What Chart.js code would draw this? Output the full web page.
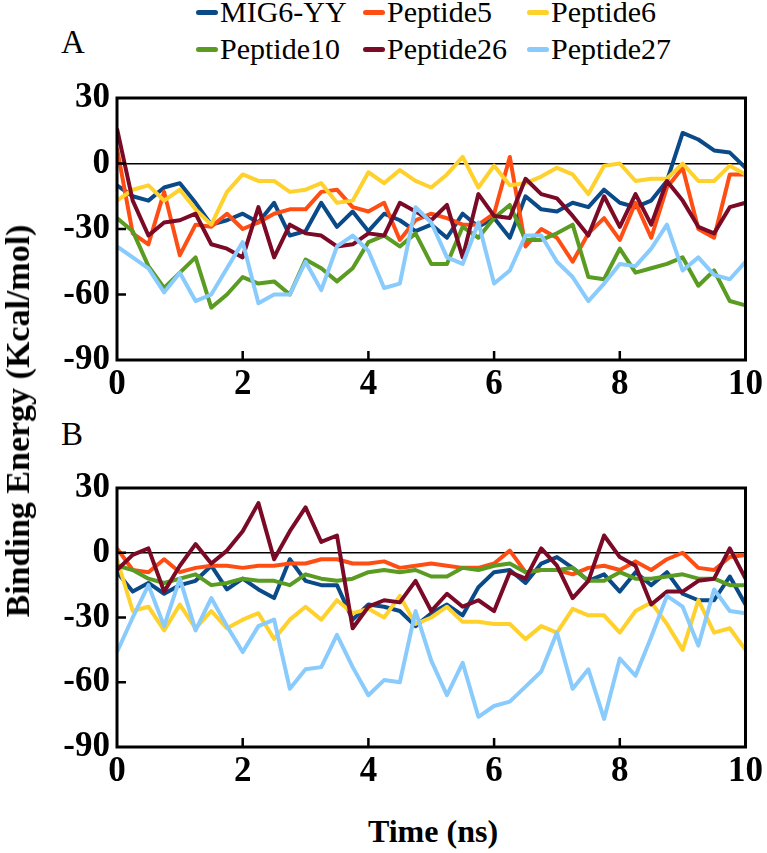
<!DOCTYPE html>
<html>
<head>
<meta charset="utf-8">
<script src="https://cdn.jsdelivr.net/npm/chart.js@4.4.1/dist/chart.umd.min.js"></script>
<style>
  body { margin: 0; background: #fff; }
  #page { position: relative; width: 767px; height: 853px; overflow: hidden; font-family: "Liberation Serif", "Times New Roman", serif; color: #000; }
  canvas { position: absolute; left: 0; }
  .panel-label { position: absolute; font-size: 33px; line-height: 1; transform: translate(-50%, -50%); }
  .leg-item { position: absolute; height: 30px; display: flex; align-items: center; font-size: 30px; white-space: nowrap; transform: translateY(-50%); }
  .leg-mark { width: 22px; height: 5px; border-radius: 3px; margin-right: 2px; }
  #ytitle { position: absolute; left: 18px; top: 421px; transform: translate(-50%, -50%) rotate(-90deg); font-weight: bold; font-size: 34px; white-space: nowrap; }
  #xtitle { position: absolute; left: 433px; top: 831px; transform: translate(-50%, -50%); font-weight: bold; font-size: 32px; white-space: nowrap; }
</style>
</head>
<body>
<div id="page">
  <div id="legend"></div>
  <div class="panel-label" style="left:73px;top:42px">A</div>
  <div class="panel-label" style="left:72px;top:434px">B</div>
  <canvas id="chartA" width="767" height="330" style="top:70px"></canvas>
  <canvas id="chartB" width="767" height="340" style="top:460px"></canvas>
  <div id="ytitle">Binding Energy (Kcal/mol)</div>
  <div id="xtitle">Time (ns)</div>
</div>
<script>
// time axis, 0.25 ns steps
const timeNs = [0, 0.25, 0.5, 0.75, 1, 1.25, 1.5, 1.75, 2, 2.25, 2.5, 2.75, 3, 3.25, 3.5, 3.75,
  4, 4.25, 4.5, 4.75, 5, 5.25, 5.5, 5.75, 6, 6.25, 6.5, 6.75, 7, 7.25, 7.5, 7.75,
  8, 8.25, 8.5, 8.75, 9, 9.25, 9.5, 9.75, 10];

const seriesNames = ["MIG6-YY", "Peptide5", "Peptide6", "Peptide10", "Peptide26", "Peptide27"];

// panel A
const mig6A = [-10, -15, -17, -11, -9, -18, -28, -26, -23, -27, -18, -33, -31, -18, -29, -22,
  -31, -23, -26, -31, -28, -34, -23, -29, -25, -34, -15, -21, -22, -18, -20, -12,
  -18, -20, -17, -8, 14, 11, 6, 5, -2];
const pep5A = [7, -32, -37, -13, -42, -28, -29, -23, -30, -27, -23, -21, -21, -13, -12, -20,
  -22, -18, -35, -26, -23, -25, -28, -28, -23, 3, -38, -30, -34, -45, -32, -25,
  -35, -18, -34, -11, -2, -30, -34, -5, -5];
const pep6A = [-17, -12, -10, -17, -12, -21, -28, -13, -5, -8, -8, -13, -12, -9, -18, -17,
  -4, -9, -3, -8, -11, -5, 3, -11, -1, -10, -9, -6, -2, -5, -14, -1,
  0, -8, -7, -7, 0, -8, -8, -1, -5];
const pep10A = [-25, -31, -47, -57, -50, -43, -66, -60, -52, -55, -54, -60, -44, -48, -54, -48,
  -36, -33, -38, -32, -46, -46, -29, -34, -25, -19, -35, -35, -32, -28, -52, -53,
  -39, -50, -48, -46, -43, -56, -49, -63, -65];
const pep26A = [16, -17, -33, -27, -26, -23, -37, -39, -43, -20, -43, -28, -32, -33, -38, -37,
  -32, -33, -18, -22, -26, -19, -43, -14, -24, -25, -7, -14, -16, -24, -33, -15,
  -29, -14, -28, -8, -17, -29, -32, -20, -18];
const pep27A = [-38, -43, -48, -59, -50, -63, -60, -48, -36, -64, -60, -60, -45, -58, -38, -33,
  -40, -57, -55, -20, -27, -43, -46, -27, -55, -49, -33, -33, -45, -52, -63, -55,
  -46, -47, -39, -28, -49, -43, -51, -53, -45];

// panel B
const mig6B = [-9, -18, -14, -19, -15, -13, -6, -17, -12, -17, -21, -3, -13, -15, -15, -31,
  -24, -25, -27, -34, -28, -24, -29, -16, -9, -8, -14, -5, -2, -7, -13, -10,
  -18, -9, -15, -9, -19, -22, -22, -11, -24];
const pep5B = [2, -8, -9, -3, -9, -7, -6, -6, -7, -6, -6, -5, -5, -3, -3, -5,
  -5, -4, -7, -6, -5, -6, -7, -7, -5, 1, -9, -8, -8, -10, -7, -6,
  -8, -4, -8, -3, 0, -7, -8, -2, -1];
const pep6B = [-3, -27, -25, -36, -24, -35, -27, -35, -31, -28, -40, -31, -25, -31, -22, -28,
  -26, -30, -20, -33, -30, -25, -32, -32, -33, -33, -40, -34, -37, -26, -29, -29,
  -37, -27, -23, -33, -45, -22, -37, -35, -45];
const pep10B = [-6, -8, -12, -14, -12, -10, -15, -14, -12, -13, -13, -15, -10, -12, -13, -12,
  -9, -8, -9, -8, -11, -11, -7, -8, -6, -5, -9, -8, -8, -7, -13, -13,
  -9, -12, -12, -11, -10, -12, -12, -15, -15];
const pep26B = [-8, -1, 2, -18, -6, 4, -5, 1, 10, 23, -3, 10, 21, 5, 8, -35,
  -25, -22, -23, -13, -27, -19, -25, -22, -27, -9, -12, 2, -6, -21, -13, 8,
  -2, -6, -24, -18, -18, -13, -12, 2, -12];
const pep27B = [-46, -30, -15, -34, -12, -36, -21, -34, -46, -34, -31, -63, -54, -53, -38, -53,
  -66, -59, -60, -27, -50, -66, -51, -76, -71, -69, -62, -55, -37, -63, -54, -77,
  -49, -57, -39, -20, -25, -43, -17, -27, -28];

const xTickValues = [0, 2, 4, 6, 8, 10];
const yTickValues = [-90, -60, -30, 0, 30];

const colors = ["#0b4a88", "#ff4e14", "#ffd12c", "#5a9b22", "#7b0a27", "#88cbfc"];
const fontFamily = '"Liberation Serif", "Times New Roman", serif';

// legend, three columns by two rows
const legendCols = [196, 363, 527];
const legendRows = [12, 49];
const legend = document.getElementById("legend");
seriesNames.forEach((name, i) => {
  const item = document.createElement("div");
  item.className = "leg-item";
  item.style.left = legendCols[i % 3] + "px";
  item.style.top = legendRows[Math.floor(i / 3)] + "px";
  item.innerHTML = '<span class="leg-mark" style="background:' + colors[i] + '"></span>' + name;
  legend.appendChild(item);
});

function points(values) {
  return values.map((v, i) => ({ x: timeNs[i], y: v }));
}

// box round the plot and short inward ticks
const framePlugin = {
  id: "frame",
  afterDatasetsDraw(chart) {
    const { ctx, chartArea: a, scales } = chart;
    ctx.save();
    ctx.strokeStyle = "#000";
    ctx.lineWidth = 2.5;
    ctx.beginPath();
    xTickValues.slice(1, -1).forEach(v => {
      const px = scales.x.getPixelForValue(v);
      ctx.moveTo(px, a.bottom);
      ctx.lineTo(px, a.bottom - 9);
    });
    yTickValues.slice(1, -1).forEach(v => {
      const py = scales.y.getPixelForValue(v);
      ctx.moveTo(a.left, py);
      ctx.lineTo(a.left + 9, py);
    });
    ctx.stroke();
    ctx.lineWidth = 3;
    ctx.strokeRect(a.left, a.top, a.right - a.left, a.bottom - a.top);
    ctx.restore();
  }
};

function makePanel(id, seriesValues, topPad, xAxisHeight) {
  return new Chart(document.getElementById(id), {
    type: "line",
    data: {
      datasets: seriesValues.map((vals, i) => ({
        label: seriesNames[i],
        data: points(vals),
        borderColor: colors[i],
        backgroundColor: colors[i],
        borderWidth: 4,
        pointRadius: 0,
        tension: 0,
        fill: false,
        borderJoinStyle: "round",
        order: seriesValues.length - 1 - i
      }))
    },
    options: {
      responsive: false,
      animation: false,
      devicePixelRatio: 1,
      layout: { padding: { top: topPad, right: 17, left: 0, bottom: 0 } },
      plugins: { legend: { display: false }, tooltip: { enabled: false } },
      scales: {
        x: {
          type: "linear",
          min: 0,
          max: 10,
          afterBuildTicks: s => { s.ticks = xTickValues.map(v => ({ value: v })); },
          afterFit: s => { s.height = xAxisHeight; },
          ticks: { color: "#000", font: { family: fontFamily, size: 35, weight: "bold" }, padding: 4, maxRotation: 0, autoSkip: false },
          grid: { display: false, drawTicks: false },
          border: { display: false }
        },
        y: {
          min: -90,
          max: 30,
          afterBuildTicks: s => { s.ticks = yTickValues.map(v => ({ value: v })); },
          afterFit: s => { s.width = 117; },
          ticks: { color: "#000", font: { family: fontFamily, size: 35, weight: "bold" }, padding: 7 },
          grid: {
            color: c => (c.tick && c.tick.value === 0 ? "#000" : "rgba(0,0,0,0)"),
            lineWidth: 1.5,
            drawTicks: false
          },
          border: { display: false }
        }
      }
    },
    plugins: [framePlugin]
  });
}

makePanel("chartA", [mig6A, pep5A, pep6A, pep10A, pep26A, pep27A], 21, 40);
makePanel("chartB", [mig6B, pep5B, pep6B, pep10B, pep26B, pep27B], 26, 53);
</script>
</body>
</html>
